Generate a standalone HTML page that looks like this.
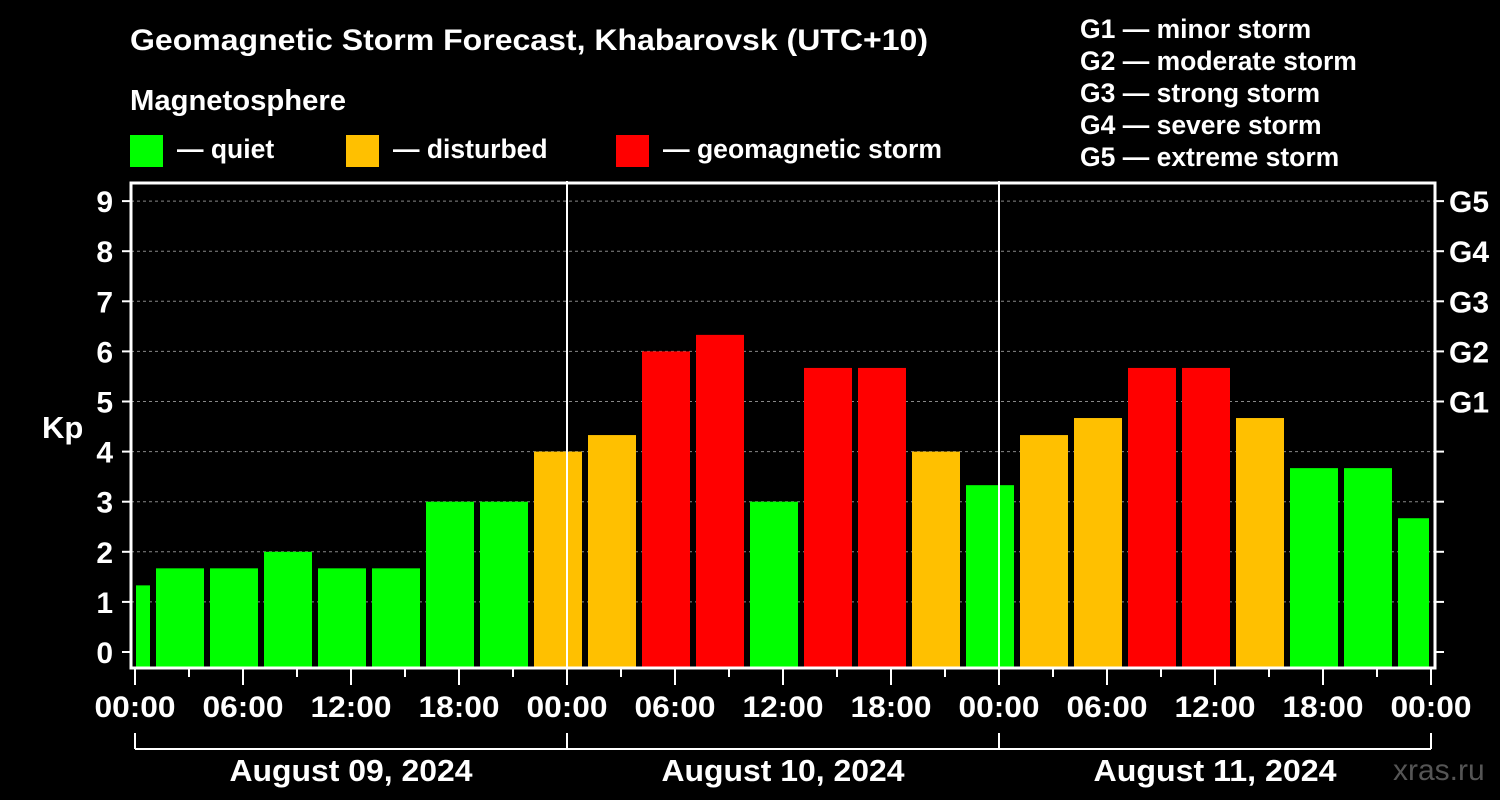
<!DOCTYPE html>
<html><head><meta charset="utf-8"><style>
html,body{margin:0;padding:0;background:#000;}
svg{display:block;font-family:"Liberation Sans",Arial,sans-serif;font-weight:bold;}
</style></head><body>
<svg id="c" width="1500" height="800" viewBox="0 0 1500 800">
<rect width="1500" height="800" fill="#000"/>
<text x="130" y="50" fill="#fff" font-size="30" textLength="798" lengthAdjust="spacingAndGlyphs">Geomagnetic Storm Forecast, Khabarovsk (UTC+10)</text>
<text x="130" y="110" fill="#fff" font-size="29" textLength="216" lengthAdjust="spacingAndGlyphs">Magnetosphere</text>
<g><rect x="130" y="135" width="33" height="32" fill="#00ff00"/><text x="177" y="158" fill="#fff" font-size="26.5">— quiet</text></g>
<g><rect x="346" y="135" width="33" height="32" fill="#ffc000"/><text x="393" y="158" fill="#fff" font-size="26.5">— disturbed</text></g>
<g><rect x="616" y="135" width="33" height="32" fill="#ff0000"/><text x="663" y="158" fill="#fff" font-size="27" textLength="279" lengthAdjust="spacingAndGlyphs">— geomagnetic storm</text></g>
<g fill="#fff" font-size="26.5">
<text x="1080" y="38">G1 — minor storm</text>
<text x="1080" y="70">G2 — moderate storm</text>
<text x="1080" y="102">G3 — strong storm</text>
<text x="1080" y="134">G4 — severe storm</text>
<text x="1080" y="166">G5 — extreme storm</text>
</g>
<text x="42" y="438" fill="#fff" font-size="31">Kp</text>
<text x="1393" y="780" fill="#555" font-size="30" font-weight="normal">xras.ru</text>
<g id="grid"></g><g id="bars"></g><g id="axes"></g>
</svg>
<script>
const kpValues=[1.33,1.67,1.67,2,1.67,1.67,3,3,4,4.33,6,6.33,3,5.67,5.67,4,3.33,4.33,4.67,5.67,5.67,4.67,3.67,3.67,2.67];
const yTicks=[0,1,2,3,4,5,6,7,8,9];
const gLabels=["","","","","","G1","G2","G3","G4","G5"];
const hourLabels=["00:00","06:00","12:00","18:00"];
const dayLabels=["August 09, 2024","August 10, 2024","August 11, 2024"];
const NS="http://www.w3.org/2000/svg";
const X0=135,PXH=18,TOTAL=72;
const xs=h=>X0+h*PXH;
const ys=k=>652-50.1*k;
function el(p,t,a){const e=document.createElementNS(NS,t);for(const k in a)e.setAttribute(k,a[k]);p.appendChild(e);return e;}
const grid=document.getElementById('grid'),bars=document.getElementById('bars'),axes=document.getElementById('axes');
yTicks.forEach(k=>{
 if(k>0){const l=el(grid,'line',{x1:131,x2:1435,y1:ys(k),y2:ys(k),stroke:'#888','stroke-dasharray':'3,3','stroke-width':1});
 
 }
 el(axes,'line',{x1:122,x2:131,y1:ys(k),y2:ys(k),stroke:'#fff','stroke-width':2});
 el(axes,'line',{x1:1435,x2:1444,y1:ys(k),y2:ys(k),stroke:'#fff','stroke-width':2});
 const t=el(axes,'text',{x:113,y:ys(k)+11,fill:'#fff','font-size':30,'text-anchor':'end'});t.textContent=k;
 
 
 if(gLabels[k]){const g=el(axes,'text',{x:1449,y:ys(k)+11,fill:'#fff','font-size':30});g.textContent=gLabels[k];
 
 }
});
kpValues.forEach((v,i)=>{
 let s=-2+3*i,e=s+3;
 let x1=Math.max(xs(s)+3,136),x2=Math.min(xs(e)-3,1429);
 const c=v>=5?'#ff0000':(v>=4?'#ffc000':'#00ff00');
 const r=el(bars,'rect',{x:x1,y:ys(v),width:x2-x1,height:668-ys(v),fill:c});
 
 
});
[1,2].forEach(d=>el(axes,'line',{x1:xs(24*d),x2:xs(24*d),y1:181,y2:668,stroke:'#fff','stroke-width':2}));
el(axes,'rect',{x:131,y:183,width:1304,height:485,fill:'none',stroke:'#fff','stroke-width':3});
for(let h=0;h<=TOTAL;h+=3){
 const major=h%6===0;
 el(axes,'line',{x1:xs(h),x2:xs(h),y1:668,y2:major?685:677,stroke:'#fff','stroke-width':2});
 if(major){const t=el(axes,'text',{x:xs(h)-40.5,y:717,fill:'#fff','font-size':30,textLength:81,lengthAdjust:'spacingAndGlyphs'});t.textContent=hourLabels[(h/6)%4];
 
 }
}
el(axes,'line',{x1:xs(0),x2:xs(72),y1:749,y2:749,stroke:'#fff','stroke-width':2});
[0,1,2,3].forEach(d=>el(axes,'line',{x1:xs(24*d),x2:xs(24*d),y1:733,y2:749,stroke:'#fff','stroke-width':2}));
dayLabels.forEach((d,i)=>{const t=el(axes,'text',{x:xs(24*i+12)-121.5,y:781,fill:'#fff','font-size':31,textLength:243,lengthAdjust:'spacingAndGlyphs'});t.textContent=d;
 
 });
</script>
</body></html>
